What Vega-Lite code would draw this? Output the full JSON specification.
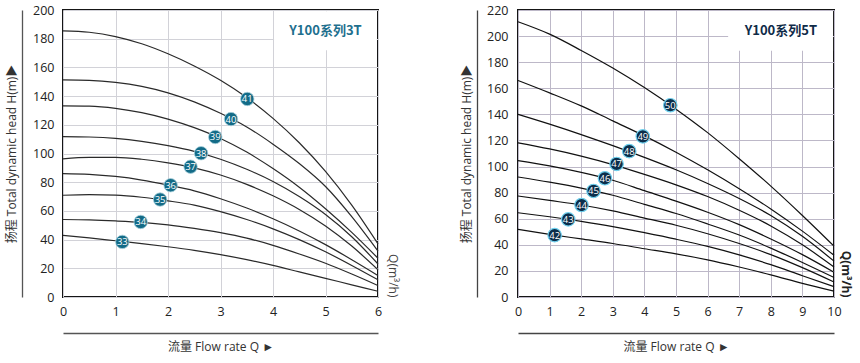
{
  "$schema": "https://vega.github.io/schema/vega-lite/v6.json",
  "padding": {"left": 4, "top": 3, "right": 22, "bottom": 0},
  "spacing": 60,
  "background": "white",
  "config": {
    "view": {"stroke": "#151515", "strokeWidth": 2},
    "axis": {"labelFont": "Open Sans", "labelFontSize": 12.5, "labelColor": "#222", "titleFont": "Open Sans, Noto Sans CJK SC", "titleFontWeight": "normal", "titleColor": "#333"}
  },
  "datasets": {
    "curves3T": [
      {"model":"41","Q":0,"H":185.5},{"model":"41","Q":0.5,"H":184.5},{"model":"41","Q":1,"H":181.5},{"model":"41","Q":1.5,"H":176.5},{"model":"41","Q":2,"H":169.5},{"model":"41","Q":2.5,"H":161},{"model":"41","Q":3,"H":151},{"model":"41","Q":3.5,"H":139},{"model":"41","Q":4,"H":124.5},{"model":"41","Q":4.5,"H":107.5},{"model":"41","Q":5,"H":87.5},{"model":"41","Q":5.5,"H":64},{"model":"41","Q":6,"H":37},
      {"model":"40","Q":0,"H":151.3},{"model":"40","Q":0.5,"H":151},{"model":"40","Q":1,"H":149.6},{"model":"40","Q":1.5,"H":146.8},{"model":"40","Q":2,"H":142.3},{"model":"40","Q":2.5,"H":136},{"model":"40","Q":3,"H":128},{"model":"40","Q":3.5,"H":118.5},{"model":"40","Q":4,"H":106.5},{"model":"40","Q":4.5,"H":93},{"model":"40","Q":5,"H":77},{"model":"40","Q":5.5,"H":56},{"model":"40","Q":6,"H":32},
      {"model":"39","Q":0,"H":133.2},{"model":"39","Q":0.5,"H":133},{"model":"39","Q":1,"H":131.5},{"model":"39","Q":1.5,"H":128.5},{"model":"39","Q":2,"H":124},{"model":"39","Q":2.5,"H":118},{"model":"39","Q":3,"H":110.5},{"model":"39","Q":3.5,"H":101},{"model":"39","Q":4,"H":89.5},{"model":"39","Q":4.5,"H":76.5},{"model":"39","Q":5,"H":61.5},{"model":"39","Q":5.5,"H":45},{"model":"39","Q":6,"H":27},
      {"model":"38","Q":0,"H":111.8},{"model":"38","Q":0.5,"H":111.5},{"model":"38","Q":1,"H":110.5},{"model":"38","Q":1.5,"H":108.5},{"model":"38","Q":2,"H":105.5},{"model":"38","Q":2.5,"H":101.5},{"model":"38","Q":3,"H":96},{"model":"38","Q":3.5,"H":89},{"model":"38","Q":4,"H":80.5},{"model":"38","Q":4.5,"H":70},{"model":"38","Q":5,"H":57.5},{"model":"38","Q":5.5,"H":42},{"model":"38","Q":6,"H":23},
      {"model":"37","Q":0,"H":96.3},{"model":"37","Q":0.5,"H":97.3},{"model":"37","Q":1,"H":97.3},{"model":"37","Q":1.5,"H":96},{"model":"37","Q":2,"H":93.5},{"model":"37","Q":2.5,"H":90},{"model":"37","Q":3,"H":85},{"model":"37","Q":3.5,"H":78.5},{"model":"37","Q":4,"H":70.5},{"model":"37","Q":4.5,"H":61},{"model":"37","Q":5,"H":49.5},{"model":"37","Q":5.5,"H":35.5},{"model":"37","Q":6,"H":19},
      {"model":"36","Q":0,"H":86},{"model":"36","Q":0.5,"H":85.5},{"model":"36","Q":1,"H":84},{"model":"36","Q":1.5,"H":81.5},{"model":"36","Q":2,"H":78},{"model":"36","Q":2.5,"H":74},{"model":"36","Q":3,"H":68.5},{"model":"36","Q":3.5,"H":62},{"model":"36","Q":4,"H":54.5},{"model":"36","Q":4.5,"H":46},{"model":"36","Q":5,"H":36.5},{"model":"36","Q":5.5,"H":26},{"model":"36","Q":6,"H":15},
      {"model":"35","Q":0,"H":70.9},{"model":"35","Q":0.5,"H":71.3},{"model":"35","Q":1,"H":71},{"model":"35","Q":1.5,"H":69.5},{"model":"35","Q":2,"H":67},{"model":"35","Q":2.5,"H":64},{"model":"35","Q":3,"H":59.5},{"model":"35","Q":3.5,"H":54},{"model":"35","Q":4,"H":47.5},{"model":"35","Q":4.5,"H":40},{"model":"35","Q":5,"H":31.5},{"model":"35","Q":5.5,"H":22},{"model":"35","Q":6,"H":12},
      {"model":"34","Q":0,"H":54},{"model":"34","Q":0.5,"H":53.7},{"model":"34","Q":1,"H":53},{"model":"34","Q":1.5,"H":52},{"model":"34","Q":2,"H":50.3},{"model":"34","Q":2.5,"H":47.8},{"model":"34","Q":3,"H":44.8},{"model":"34","Q":3.5,"H":41},{"model":"34","Q":4,"H":36},{"model":"34","Q":4.5,"H":30},{"model":"34","Q":5,"H":23.5},{"model":"34","Q":5.5,"H":16},{"model":"34","Q":6,"H":8},
      {"model":"33","Q":0,"H":43},{"model":"33","Q":0.5,"H":41.2},{"model":"33","Q":1,"H":39.2},{"model":"33","Q":1.5,"H":37.2},{"model":"33","Q":2,"H":35},{"model":"33","Q":2.5,"H":32.5},{"model":"33","Q":3,"H":29.5},{"model":"33","Q":3.5,"H":26},{"model":"33","Q":4,"H":22},{"model":"33","Q":4.5,"H":17.5},{"model":"33","Q":5,"H":13},{"model":"33","Q":5.5,"H":8.5},{"model":"33","Q":6,"H":4}
    ],
    "markers3T": [
      {"model":"41","Q":3.51,"H":138},{"model":"40","Q":3.2,"H":124},{"model":"39","Q":2.9,"H":111.5},{"model":"38","Q":2.63,"H":100.2},{"model":"37","Q":2.43,"H":90.8},{"model":"36","Q":2.05,"H":77.9},{"model":"35","Q":1.85,"H":67.9},{"model":"34","Q":1.48,"H":52.3},{"model":"33","Q":1.13,"H":38.4}
    ],
    "curves5T": [
      {"model":"50","Q":0,"H":211},{"model":"50","Q":1,"H":201.5},{"model":"50","Q":2,"H":189},{"model":"50","Q":3,"H":175.5},{"model":"50","Q":4,"H":160.5},{"model":"50","Q":5,"H":144},{"model":"50","Q":6,"H":126},{"model":"50","Q":7,"H":106},{"model":"50","Q":8,"H":85},{"model":"50","Q":9,"H":62.5},{"model":"50","Q":10,"H":39},
      {"model":"49","Q":0,"H":166},{"model":"49","Q":1,"H":156.5},{"model":"49","Q":2,"H":146.5},{"model":"49","Q":3,"H":135},{"model":"49","Q":4,"H":123.5},{"model":"49","Q":5,"H":111},{"model":"49","Q":6,"H":97.5},{"model":"49","Q":7,"H":83},{"model":"49","Q":8,"H":67.5},{"model":"49","Q":9,"H":50.5},{"model":"49","Q":10,"H":32},
      {"model":"48","Q":0,"H":140},{"model":"48","Q":1,"H":132.5},{"model":"48","Q":2,"H":124.5},{"model":"48","Q":3,"H":116},{"model":"48","Q":4,"H":107},{"model":"48","Q":5,"H":97.5},{"model":"48","Q":6,"H":87},{"model":"48","Q":7,"H":75.5},{"model":"48","Q":8,"H":62.5},{"model":"48","Q":9,"H":46.5},{"model":"48","Q":10,"H":27.5},
      {"model":"47","Q":0,"H":118.2},{"model":"47","Q":1,"H":113.5},{"model":"47","Q":2,"H":108},{"model":"47","Q":3,"H":101.5},{"model":"47","Q":4,"H":94},{"model":"47","Q":5,"H":86},{"model":"47","Q":6,"H":77},{"model":"47","Q":7,"H":66.5},{"model":"47","Q":8,"H":54.5},{"model":"47","Q":9,"H":40},{"model":"47","Q":10,"H":23},
      {"model":"46","Q":0,"H":104.6},{"model":"46","Q":1,"H":100.5},{"model":"46","Q":2,"H":95.5},{"model":"46","Q":3,"H":89.5},{"model":"46","Q":4,"H":81.5},{"model":"46","Q":5,"H":73.5},{"model":"46","Q":6,"H":65},{"model":"46","Q":7,"H":55.5},{"model":"46","Q":8,"H":44.5},{"model":"46","Q":9,"H":32.5},{"model":"46","Q":10,"H":19},
      {"model":"45","Q":0,"H":92},{"model":"45","Q":1,"H":88},{"model":"45","Q":2,"H":83.5},{"model":"45","Q":3,"H":78},{"model":"45","Q":4,"H":71},{"model":"45","Q":5,"H":64},{"model":"45","Q":6,"H":56},{"model":"45","Q":7,"H":47.5},{"model":"45","Q":8,"H":37.5},{"model":"45","Q":9,"H":26.5},{"model":"45","Q":10,"H":15},
      {"model":"44","Q":0,"H":77.4},{"model":"44","Q":1,"H":74},{"model":"44","Q":2,"H":70.5},{"model":"44","Q":3,"H":66},{"model":"44","Q":4,"H":60.5},{"model":"44","Q":5,"H":55},{"model":"44","Q":6,"H":48.5},{"model":"44","Q":7,"H":41},{"model":"44","Q":8,"H":32.5},{"model":"44","Q":9,"H":22.5},{"model":"44","Q":10,"H":11.5},
      {"model":"43","Q":0,"H":64.6},{"model":"43","Q":1,"H":61.5},{"model":"43","Q":2,"H":58},{"model":"43","Q":3,"H":54},{"model":"43","Q":4,"H":49.3},{"model":"43","Q":5,"H":44.3},{"model":"43","Q":6,"H":38.8},{"model":"43","Q":7,"H":32.3},{"model":"43","Q":8,"H":24.8},{"model":"43","Q":9,"H":16.3},{"model":"43","Q":10,"H":8},
      {"model":"42","Q":0,"H":51.8},{"model":"42","Q":1,"H":48},{"model":"42","Q":2,"H":44.5},{"model":"42","Q":3,"H":41},{"model":"42","Q":4,"H":37},{"model":"42","Q":5,"H":33},{"model":"42","Q":6,"H":28.5},{"model":"42","Q":7,"H":23},{"model":"42","Q":8,"H":17},{"model":"42","Q":9,"H":10.5},{"model":"42","Q":10,"H":4.5}
    ],
    "markers5T": [
      {"model":"50","Q":4.82,"H":147},{"model":"49","Q":3.95,"H":123.1},{"model":"48","Q":3.52,"H":111.8},{"model":"47","Q":3.12,"H":102},{"model":"46","Q":2.75,"H":91},{"model":"45","Q":2.39,"H":81.3},{"model":"44","Q":2.01,"H":70.5},{"model":"43","Q":1.59,"H":59.5},{"model":"42","Q":1.16,"H":47.4}
    ]
  },
  "hconcat": [
    {
      "width": 315, "height": 287,
      "resolve": {"axis": {"x": "independent", "y": "independent"}},
      "layer": [
        {
          "data": {"name": "curves3T"},
          "mark": {"type": "line", "interpolate": "monotone", "color": "#2a2a2a", "strokeWidth": 1.2},
          "encoding": {
            "x": {"field": "Q", "type": "quantitative", "scale": {"domain": [0, 6], "nice": false},
                  "axis": {"orient": "bottom", "values": [0,1,2,3,4,5,6], "labelFlush": false, "domain": false, "ticks": false, "grid": true, "gridColor": "#d2d2d8", "gridWidth": 1, "labelPadding": 8, "title": null}},
            "y": {"field": "H", "type": "quantitative", "scale": {"domain": [0, 200], "nice": false},
                  "axis": {"orient": "left", "values": [0,20,40,60,80,100,120,140,160,180,200], "domain": false, "ticks": false, "grid": true, "gridColor": "#d2d2d8", "gridWidth": 1, "labelPadding": 9, "title": null}},
            "detail": {"field": "model"}
          }
        },
        {
          "data": {"values": [{}]},
          "mark": {"type": "rect", "fill": "white"},
          "encoding": {
            "x": {"datum": 4.02, "type": "quantitative", "axis": null}, "x2": {"datum": 5.975},
            "y": {"datum": 172, "type": "quantitative", "axis": null}, "y2": {"datum": 199.2}
          }
        },
        {
          "data": {"values": [{"t": "Y100系列3T"}]},
          "mark": {"type": "text", "font": "Noto Sans CJK SC", "fontSize": 13, "fontWeight": "bold", "color": "#1e6f8e", "align": "center", "baseline": "middle"},
          "encoding": {
            "x": {"datum": 5.0, "type": "quantitative", "axis": null},
            "y": {"datum": 185.4, "type": "quantitative", "axis": null},
            "text": {"field": "t"}
          }
        },
        {
          "data": {"name": "markers3T"},
          "mark": {"type": "circle", "size": 180, "fill": "#136b87", "stroke": "#a8d0dc", "strokeWidth": 0.8, "opacity": 1},
          "encoding": {
            "x": {"field": "Q", "type": "quantitative",
                  "axis": {"orient": "bottom", "offset": 36, "domain": true, "domainColor": "#555", "domainWidth": 1.3, "labels": false, "ticks": false, "grid": false, "title": "流量 Flow rate Q ►", "titleFontSize": 12, "titlePadding": 8}},
            "y": {"field": "H", "type": "quantitative",
                  "axis": {"orient": "left", "offset": 41, "domain": true, "domainColor": "#555", "domainWidth": 1.3, "labels": false, "ticks": false, "grid": false, "title": "扬程 Total dynamic head H(m)▶", "titleFontSize": 12, "titlePadding": 4}}
          }
        },
        {
          "data": {"name": "markers3T"},
          "mark": {"type": "text", "color": "white", "font": "Open Sans", "fontSize": 9.5, "align": "center", "baseline": "middle", "dy": 0.5},
          "encoding": {
            "x": {"field": "Q", "type": "quantitative", "axis": null},
            "y": {"field": "H", "type": "quantitative",
                  "axis": {"orient": "right", "domain": false, "labels": false, "ticks": false, "grid": false, "title": "Q(m³/h)", "titleFontSize": 12, "titleColor": "#444", "titleAngle": 90, "titleAlign": "right", "titleBaseline": "middle", "titleX": 14, "titleY": 287}},
            "text": {"field": "model"}
          }
        }
      ]
    },
    {
      "width": 316, "height": 287,
      "resolve": {"axis": {"x": "independent", "y": "independent"}},
      "layer": [
        {
          "data": {"name": "curves5T"},
          "mark": {"type": "line", "interpolate": "monotone", "color": "#111", "strokeWidth": 1.2},
          "encoding": {
            "x": {"field": "Q", "type": "quantitative", "scale": {"domain": [0, 10], "nice": false},
                  "axis": {"orient": "bottom", "values": [0,1,2,3,4,5,6,7,8,9,10], "labelFlush": false, "domain": false, "ticks": false, "grid": true, "gridColor": "#bdb8c8", "gridWidth": 1, "labelPadding": 8, "title": null}},
            "y": {"field": "H", "type": "quantitative", "scale": {"domain": [0, 220], "nice": false},
                  "axis": {"orient": "left", "values": [0,20,40,60,80,100,120,140,160,180,200,220], "domain": false, "ticks": false, "grid": true, "gridColor": "#bdb8c8", "gridWidth": 1, "labelPadding": 10, "title": null}},
            "detail": {"field": "model"}
          }
        },
        {
          "data": {"values": [{}]},
          "mark": {"type": "rect", "fill": "white"},
          "encoding": {
            "x": {"datum": 6.65, "type": "quantitative", "axis": null}, "x2": {"datum": 9.97},
            "y": {"datum": 188.8, "type": "quantitative", "axis": null}, "y2": {"datum": 219.2}
          }
        },
        {
          "data": {"values": [{"t": "Y100系列5T"}]},
          "mark": {"type": "text", "font": "Noto Sans CJK SC", "fontSize": 13, "fontWeight": "bold", "color": "#0f2b48", "align": "center", "baseline": "middle"},
          "encoding": {
            "x": {"datum": 8.32, "type": "quantitative", "axis": null},
            "y": {"datum": 204.1, "type": "quantitative", "axis": null},
            "text": {"field": "t"}
          }
        },
        {
          "data": {"name": "markers5T"},
          "mark": {"type": "circle", "size": 180, "fill": "#0c2e4b", "stroke": "#6fd0ee", "strokeWidth": 1.2, "opacity": 1},
          "encoding": {
            "x": {"field": "Q", "type": "quantitative",
                  "axis": {"orient": "bottom", "offset": 36, "domain": true, "domainColor": "#444", "domainWidth": 1.3, "labels": false, "ticks": false, "grid": false, "title": "流量 Flow rate Q ►", "titleFontSize": 12, "titlePadding": 8}},
            "y": {"field": "H", "type": "quantitative",
                  "axis": {"orient": "left", "offset": 41, "domain": true, "domainColor": "#444", "domainWidth": 1.3, "labels": false, "ticks": false, "grid": false, "title": "扬程 Total dynamic head H(m)▶", "titleFontSize": 12, "titlePadding": 4}}
          }
        },
        {
          "data": {"name": "markers5T"},
          "mark": {"type": "text", "color": "white", "font": "Open Sans", "fontSize": 9.5, "align": "center", "baseline": "middle", "dy": 0.5},
          "encoding": {
            "x": {"field": "Q", "type": "quantitative", "axis": null},
            "y": {"field": "H", "type": "quantitative",
                  "axis": {"orient": "right", "domain": false, "labels": false, "ticks": false, "grid": false, "title": "Q(m³/h)", "titleFontSize": 12, "titleFontWeight": "bold", "titleColor": "#222", "titleAngle": 90, "titleAlign": "right", "titleBaseline": "middle", "titleX": 11, "titleY": 287}},
            "text": {"field": "model"}
          }
        }
      ]
    }
  ]
}
